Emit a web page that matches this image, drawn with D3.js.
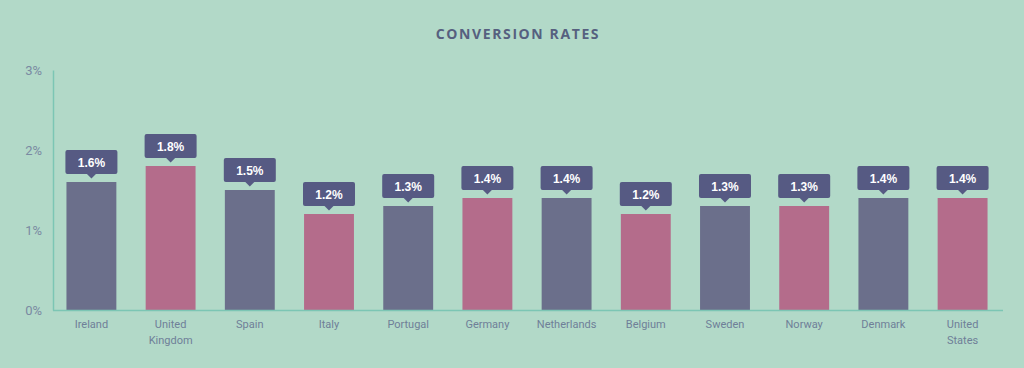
<!DOCTYPE html>
<html><head><meta charset="utf-8">
<script src="https://cdn.jsdelivr.net/npm/d3@7"></script>
<style>
html,body{margin:0;padding:0;background:#b2d9c8;}
svg{display:block;}
</style></head>
<body>
<svg id="chart" width="1024" height="368"></svg>
<script>
const categories = ["Ireland","United Kingdom","Spain","Italy","Portugal","Germany","Netherlands","Belgium","Sweden","Norway","Denmark","United States"];
const labelLines = [["Ireland"],["United","Kingdom"],["Spain"],["Italy"],["Portugal"],["Germany"],["Netherlands"],["Belgium"],["Sweden"],["Norway"],["Denmark"],["United","States"]];
const values = [1.6,1.8,1.5,1.2,1.3,1.4,1.4,1.2,1.3,1.3,1.4,1.4];
const yTicks = [0,1,2,3];
const colors = ["#6b6f8b","#b46c8b"];

const svg = d3.select("#chart");
const W = 1024, H = 368;
svg.append("rect").attr("width",W).attr("height",H).attr("fill","#b2d9c8");

const x = d3.scaleBand().domain(categories).range([53,1001]).paddingInner(0.37).paddingOuter(0.17);
const y = d3.scaleLinear().domain([0,3]).range([310,70]);

svg.append("text").attr("x",518).attr("y",39).attr("text-anchor","middle")
  .attr("font-family","Open Sans, sans-serif").attr("font-weight","bold").attr("font-size",14)
  .attr("letter-spacing","1.6px").attr("fill","#56607f").text("CONVERSION RATES");

// y axis
const yAxis = d3.axisLeft(y).tickValues(yTicks).tickFormat(d=>d+"%").tickSize(0).tickPadding(11);
const gy = svg.append("g").attr("transform","translate(53,0)").call(yAxis);
gy.select(".domain").attr("stroke","#7cc6b4").attr("stroke-width",1.5);
gy.selectAll("text").attr("font-family","Roboto, sans-serif").attr("font-size",13).attr("fill","#7a8aa2");

// bars
svg.append("g").selectAll("rect").data(values).join("rect")
  .attr("x",(d,i)=>x(categories[i])).attr("width",x.bandwidth())
  .attr("y",d=>y(d)).attr("height",d=>y(0)-y(d))
  .attr("fill",(d,i)=>colors[i%2]);

// x axis
const xAxis = d3.axisBottom(x).tickSize(0).tickFormat("");
const gx = svg.append("g").attr("transform","translate(0,310.5)").call(xAxis);
gx.select(".domain").attr("stroke","#7cc6b4").attr("stroke-width",1.5).attr("d","M53,0H1003");
const xl = svg.append("g").selectAll("text").data(categories).join("text")
  .attr("x",d=>x(d)+x.bandwidth()/2).attr("y",328).attr("text-anchor","middle")
  .attr("font-family","Roboto, sans-serif").attr("font-size",11).attr("fill","#6f7f98");
xl.each(function(d,i){
  const t = d3.select(this);
  labelLines[i].forEach((ln,j)=>{
    t.append("tspan").attr("x",x(d)+x.bandwidth()/2).attr("dy",j===0?0:16).text(ln);
  });
});

// value callouts
const bw = x.bandwidth();
const g = svg.append("g").selectAll("g").data(values).join("g")
  .attr("transform",(d,i)=>`translate(${x(categories[i])+bw/2},${y(d)})`);
g.append("rect").attr("x",-26).attr("y",-32).attr("width",52).attr("height",24).attr("rx",2).attr("fill","#565a83");
g.append("path").attr("d","M-5,-8.5L0,-3.5L5,-8.5Z").attr("fill","#565a83");
g.append("text").attr("y",-15.5).attr("text-anchor","middle")
  .attr("font-family","Liberation Sans, Arial, sans-serif").attr("font-weight","bold").attr("font-size",12)
  .attr("fill","#ffffff").text(d=>d.toFixed(1)+"%");
</script>
</body></html>
